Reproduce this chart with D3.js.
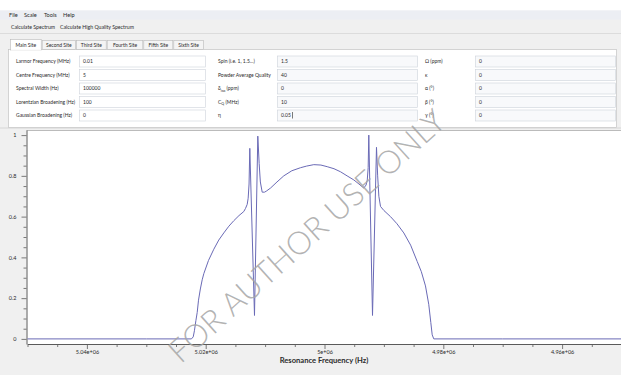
<!DOCTYPE html>
<html>
<head>
<meta charset="utf-8">
<script src="https://cdn.jsdelivr.net/npm/d3@7/dist/d3.min.js"></script>
<style>
  html, body { margin: 0; padding: 0; background: #f0f0f0; }
  svg { display: block; }
  text { font-family: Lato, "Open Sans", sans-serif; fill: #2a2a2a; }
</style>
</head>
<body>
<script>
// ---- spectrum data (frequency in Hz, normalised intensity) ----
const freqHz = [
  5050000, 5030000, 5022400, 5022100, 5021900, 5021650, 5021430, 5021212,
  5020900, 5020589, 5020320, 5019529, 5018636, 5017800, 5016953, 5016100,
  5015269, 5014400, 5013586, 5013300, 5013014, 5012850, 5012700, 5012576,
  5011785, 5011229, 5011000, 5010800, 5010488, 5010100, 5009800, 5009091,
  5008000, 5006852, 5005500, 5004040, 5003000, 5001801, 5000600, 4999546,
  4998400, 4997306, 4996200, 4995067, 4994200, 4993384, 4993000, 4992800,
  4992650, 4992542, 4991919, 4991246, 4991050, 4990850, 4990572, 4990000,
  4988889, 4987800, 4986650, 4985500, 4984394, 4983700, 4983000, 4982450,
  4982100, 4981870, 4981600, 4970000, 4950000
];
const intensity = [
  0, 0, 0, 0.01, 0.04, 0.09, 0.13, 0.19,
  0.245, 0.29, 0.32, 0.385, 0.44, 0.485, 0.52, 0.553,
  0.58, 0.605, 0.625, 0.64, 0.66, 0.69, 0.76, 0.935,
  0.115, 0.995, 0.86, 0.77, 0.72, 0.72, 0.725, 0.74,
  0.77, 0.80, 0.825, 0.84, 0.848, 0.855, 0.853, 0.845,
  0.835, 0.82, 0.80, 0.78, 0.76, 0.74, 0.755, 0.78,
  0.84, 1.0, 0.115, 0.94, 0.80, 0.70, 0.65, 0.63,
  0.60, 0.565, 0.52, 0.46, 0.38, 0.33, 0.26, 0.17,
  0.08, 0.02, 0, 0, 0
];

// ---- axis ticks ----
const xMajorTicks = [5040000, 5020000, 5000000, 4980000, 4960000];
const xMajorLabels = ["5.04e+06", "5.02e+06", "5e+06", "4.98e+06", "4.96e+06"];
const xMinorTicks = [5050000, 5045000, 5035000, 5030000, 5025000, 5015000, 5010000, 5005000,
                     4995000, 4990000, 4985000, 4975000, 4970000, 4965000, 4955000, 4950000];
const yMajorTicks = [0, 0.2, 0.4, 0.6, 0.8, 1];
const yMajorLabels = ["0", "0.2", "0.4", "0.6", "0.8", "1"];
const yMinorTicks = [0.05, 0.1, 0.15, 0.25, 0.3, 0.35, 0.45, 0.5, 0.55, 0.65, 0.7, 0.75, 0.85, 0.9, 0.95];

// ---- form contents ----
const menuItems = ["File", "Scale", "Tools", "Help"];
const toolbarItems = ["Calculate Spectrum", "Calculate High Quality Spectrum"];
const tabNames = ["Main Site", "Second Site", "Third Site", "Fourth Site", "Fifth Site", "Sixth Site"];
const col1Labels = ["Larmor Frequency (MHz)", "Centre Frequency (MHz)", "Spectral Width (Hz)",
                    "Lorentzian Broadening (Hz)", "Gaussian Broadening (Hz)"];
const col1Values = ["0.01", "5", "100000", "100", "0"];
const col2Labels = [["Spin (i.e. 1, 1.5...)"], ["Powder Average Quality"], ["δ", "iso", " (ppm)"],
                    ["C", "Q", " (MHz)"], ["η"]];
const col2Values = ["1.5", "40", "0", "10", "0.05"];
const col3Labels = ["Ω (ppm)", "κ", "α (°)", "β (°)", "γ (°)"];
const col3Values = ["0", "0", "0", "0", "0"];

const W = 621, H = 375;
const svg = d3.select("body").append("svg").attr("width", W).attr("height", H);

// ---- window chrome ----
svg.append("rect").attr("x", 0).attr("y", 0).attr("width", W).attr("height", H).attr("fill", "#f0f0f0");
svg.append("rect").attr("x", 0).attr("y", 0).attr("width", W).attr("height", 10.5).attr("fill", "#ffffff");
svg.append("rect").attr("x", 0).attr("y", 10.5).attr("width", W).attr("height", 9).attr("fill", "#eceef3");

const menuX = [9, 24, 44, 63];
svg.selectAll("text.menu").data(menuItems).join("text")
  .attr("class", "menu").attr("x", (d, i) => menuX[i]).attr("y", 17)
  .attr("font-size", 5.6).text(d => d);

const toolX = [11, 60];
svg.selectAll("text.tool").data(toolbarItems).join("text")
  .attr("class", "tool").attr("x", (d, i) => toolX[i]).attr("y", 29)
  .attr("font-size", 5.2).text(d => d);
svg.append("line").attr("x1", 0).attr("x2", W).attr("y1", 33.5).attr("y2", 33.5)
  .attr("stroke", "#dcdcdc");

// form panel
svg.append("rect").attr("x", 8.5).attr("y", 49.5).attr("width", 608).attr("height", 78)
  .attr("fill", "#ffffff").attr("stroke", "#c4c4c4").attr("stroke-width", 0.7);

// tabs (drawn over the panel edge so the active one merges with it)
const tabEdges = [10, 41.7, 76, 106.7, 143.3, 173.3, 204];
const tabs = svg.append("g");
tabNames.forEach((name, i) => {
  const x0 = tabEdges[i], x1 = tabEdges[i + 1];
  const sel = i === 0;
  tabs.append("rect").attr("x", x0 + 0.5).attr("y", sel ? 39.5 : 40.5)
    .attr("width", x1 - x0 - 1).attr("height", sel ? 10.5 : 9)
    .attr("fill", sel ? "#ffffff" : "#f4f4f4").attr("stroke", "#b9b9b9").attr("stroke-width", 0.6);
  tabs.append("text").attr("x", (x0 + x1) / 2).attr("y", 46.5)
    .attr("text-anchor", "middle").attr("font-size", 5).text(name);
});
tabs.append("rect").attr("x", 11).attr("y", 49.2).attr("width", 30).attr("height", 1.2).attr("fill", "#ffffff");

const rowY = [61.5, 75, 88.5, 102, 115.5];
const form = svg.append("g");
function inputBox(x0, x1, cy, value, tinted) {
  form.append("rect").attr("x", x0 + 0.5).attr("y", cy - 5.5).attr("width", x1 - x0).attr("height", 11)
    .attr("fill", tinted ? "#f8f9fb" : "#ffffff").attr("stroke", "#cdd2da").attr("stroke-width", 0.6);
  form.append("text").attr("x", x0 + 4).attr("y", cy + 1.8).attr("font-size", 5).text(value);
}
rowY.forEach((cy, i) => {
  form.append("text").attr("x", 16).attr("y", cy + 1.8).attr("font-size", 5).text(col1Labels[i]);
  inputBox(79, 205, cy, col1Values[i], false);

  const lab = form.append("text").attr("x", 218).attr("y", cy + 1.8).attr("font-size", 5);
  const parts = col2Labels[i];
  lab.append("tspan").text(parts[0]);
  if (parts.length > 1) {
    lab.append("tspan").attr("font-size", 3.6).attr("dy", 1.2).text(parts[1]);
    lab.append("tspan").attr("dy", -1.2).text(parts[2]);
  }
  inputBox(277, 417, cy, col2Values[i], true);

  form.append("text").attr("x", 425).attr("y", cy + 1.8).attr("font-size", 5).text(col3Labels[i]);
  inputBox(475, 615, cy, col3Values[i], true);
});
// text cursor in the active field
form.append("line").attr("x1", 292.5).attr("x2", 292.5).attr("y1", rowY[4] - 3.5).attr("y2", rowY[4] + 3)
  .attr("stroke", "#222").attr("stroke-width", 0.6);

// ---- plot ----
const plotTop = 130, plotBottom = 344, plotLeft = 26.5, plotRight = 621;
svg.append("line").attr("x1", 0).attr("x2", W).attr("y1", 128).attr("y2", 128)
  .attr("stroke", "#cfcfcf").attr("stroke-width", 0.8);
svg.append("rect").attr("x", plotLeft).attr("y", plotTop).attr("width", plotRight - plotLeft)
  .attr("height", plotBottom - plotTop).attr("fill", "#ffffff");
svg.append("line").attr("x1", plotLeft).attr("x2", plotRight).attr("y1", plotTop + 0.5).attr("y2", plotTop + 0.5)
  .attr("stroke", "#a9a9a9").attr("stroke-width", 0.8);

const x = d3.scaleLinear().domain([5050000, 4950000]).range([27.5, 621.5]);
const y = d3.scaleLinear().domain([-0.025, 1.025]).range([plotBottom, plotTop]);

// x axis
const xAxisG = svg.append("g").attr("transform", `translate(0,${plotBottom})`);
xAxisG.call(d3.axisBottom(x).tickValues(xMajorTicks).tickSize(5).tickSizeOuter(0)
  .tickFormat((d, i) => xMajorLabels[i]));
svg.append("g").attr("transform", `translate(0,${plotBottom})`)
  .call(d3.axisBottom(x).tickValues(xMinorTicks).tickSize(3).tickSizeOuter(0).tickFormat(""))
  .select(".domain").remove();

// y axis
const yAxisG = svg.append("g").attr("transform", `translate(${plotLeft},0)`);
yAxisG.call(d3.axisLeft(y).tickValues(yMajorTicks).tickSize(5).tickSizeOuter(0)
  .tickFormat((d, i) => yMajorLabels[i]));
svg.append("g").attr("transform", `translate(${plotLeft},0)`)
  .call(d3.axisLeft(y).tickValues(yMinorTicks).tickSize(3).tickSizeOuter(0).tickFormat(""))
  .select(".domain").remove();

svg.selectAll(".domain").attr("stroke", "#5a5a5a").attr("stroke-width", 1);
svg.selectAll(".tick line").attr("stroke", "#5a5a5a").attr("stroke-width", 0.8);
xAxisG.selectAll(".tick text").attr("font-size", 5.5).attr("y", 6.5).attr("dy", "0.71em")
  .attr("fill", "#2a2a2a").attr("font-family", "Lato, sans-serif");
yAxisG.selectAll(".tick text").attr("font-size", 5.5).attr("x", -10)
  .attr("fill", "#2a2a2a").attr("font-family", "Lato, sans-serif");

svg.append("text").attr("x", 324).attr("y", 363).attr("text-anchor", "middle")
  .attr("font-size", 7.6).attr("font-weight", "bold").attr("fill", "#1a1a1a")
  .text("Resonance Frequency (Hz)");

// spectrum trace
const pts = freqHz.map((f, i) => [f, intensity[i]]);
const line = d3.line().x(d => x(d[0])).y(d => y(d[1])).curve(d3.curveLinear);
svg.append("path").datum(pts).attr("d", line)
  .attr("fill", "none").attr("stroke", "#6a6ab6").attr("stroke-width", 1)
  .attr("stroke-linejoin", "round");

// watermark
svg.append("text")
  .attr("transform", "translate(306,235) rotate(-42)")
  .attr("text-anchor", "middle").attr("dominant-baseline", "central")
  .attr("font-size", 32).attr("font-weight", 300)
  .attr("font-family", "Lato, sans-serif")
  .style("fill", "#a6a6a6").style("fill-opacity", 0.85)
  .text("FOR AUTHOR USE ONLY");
</script>
</body>
</html>
